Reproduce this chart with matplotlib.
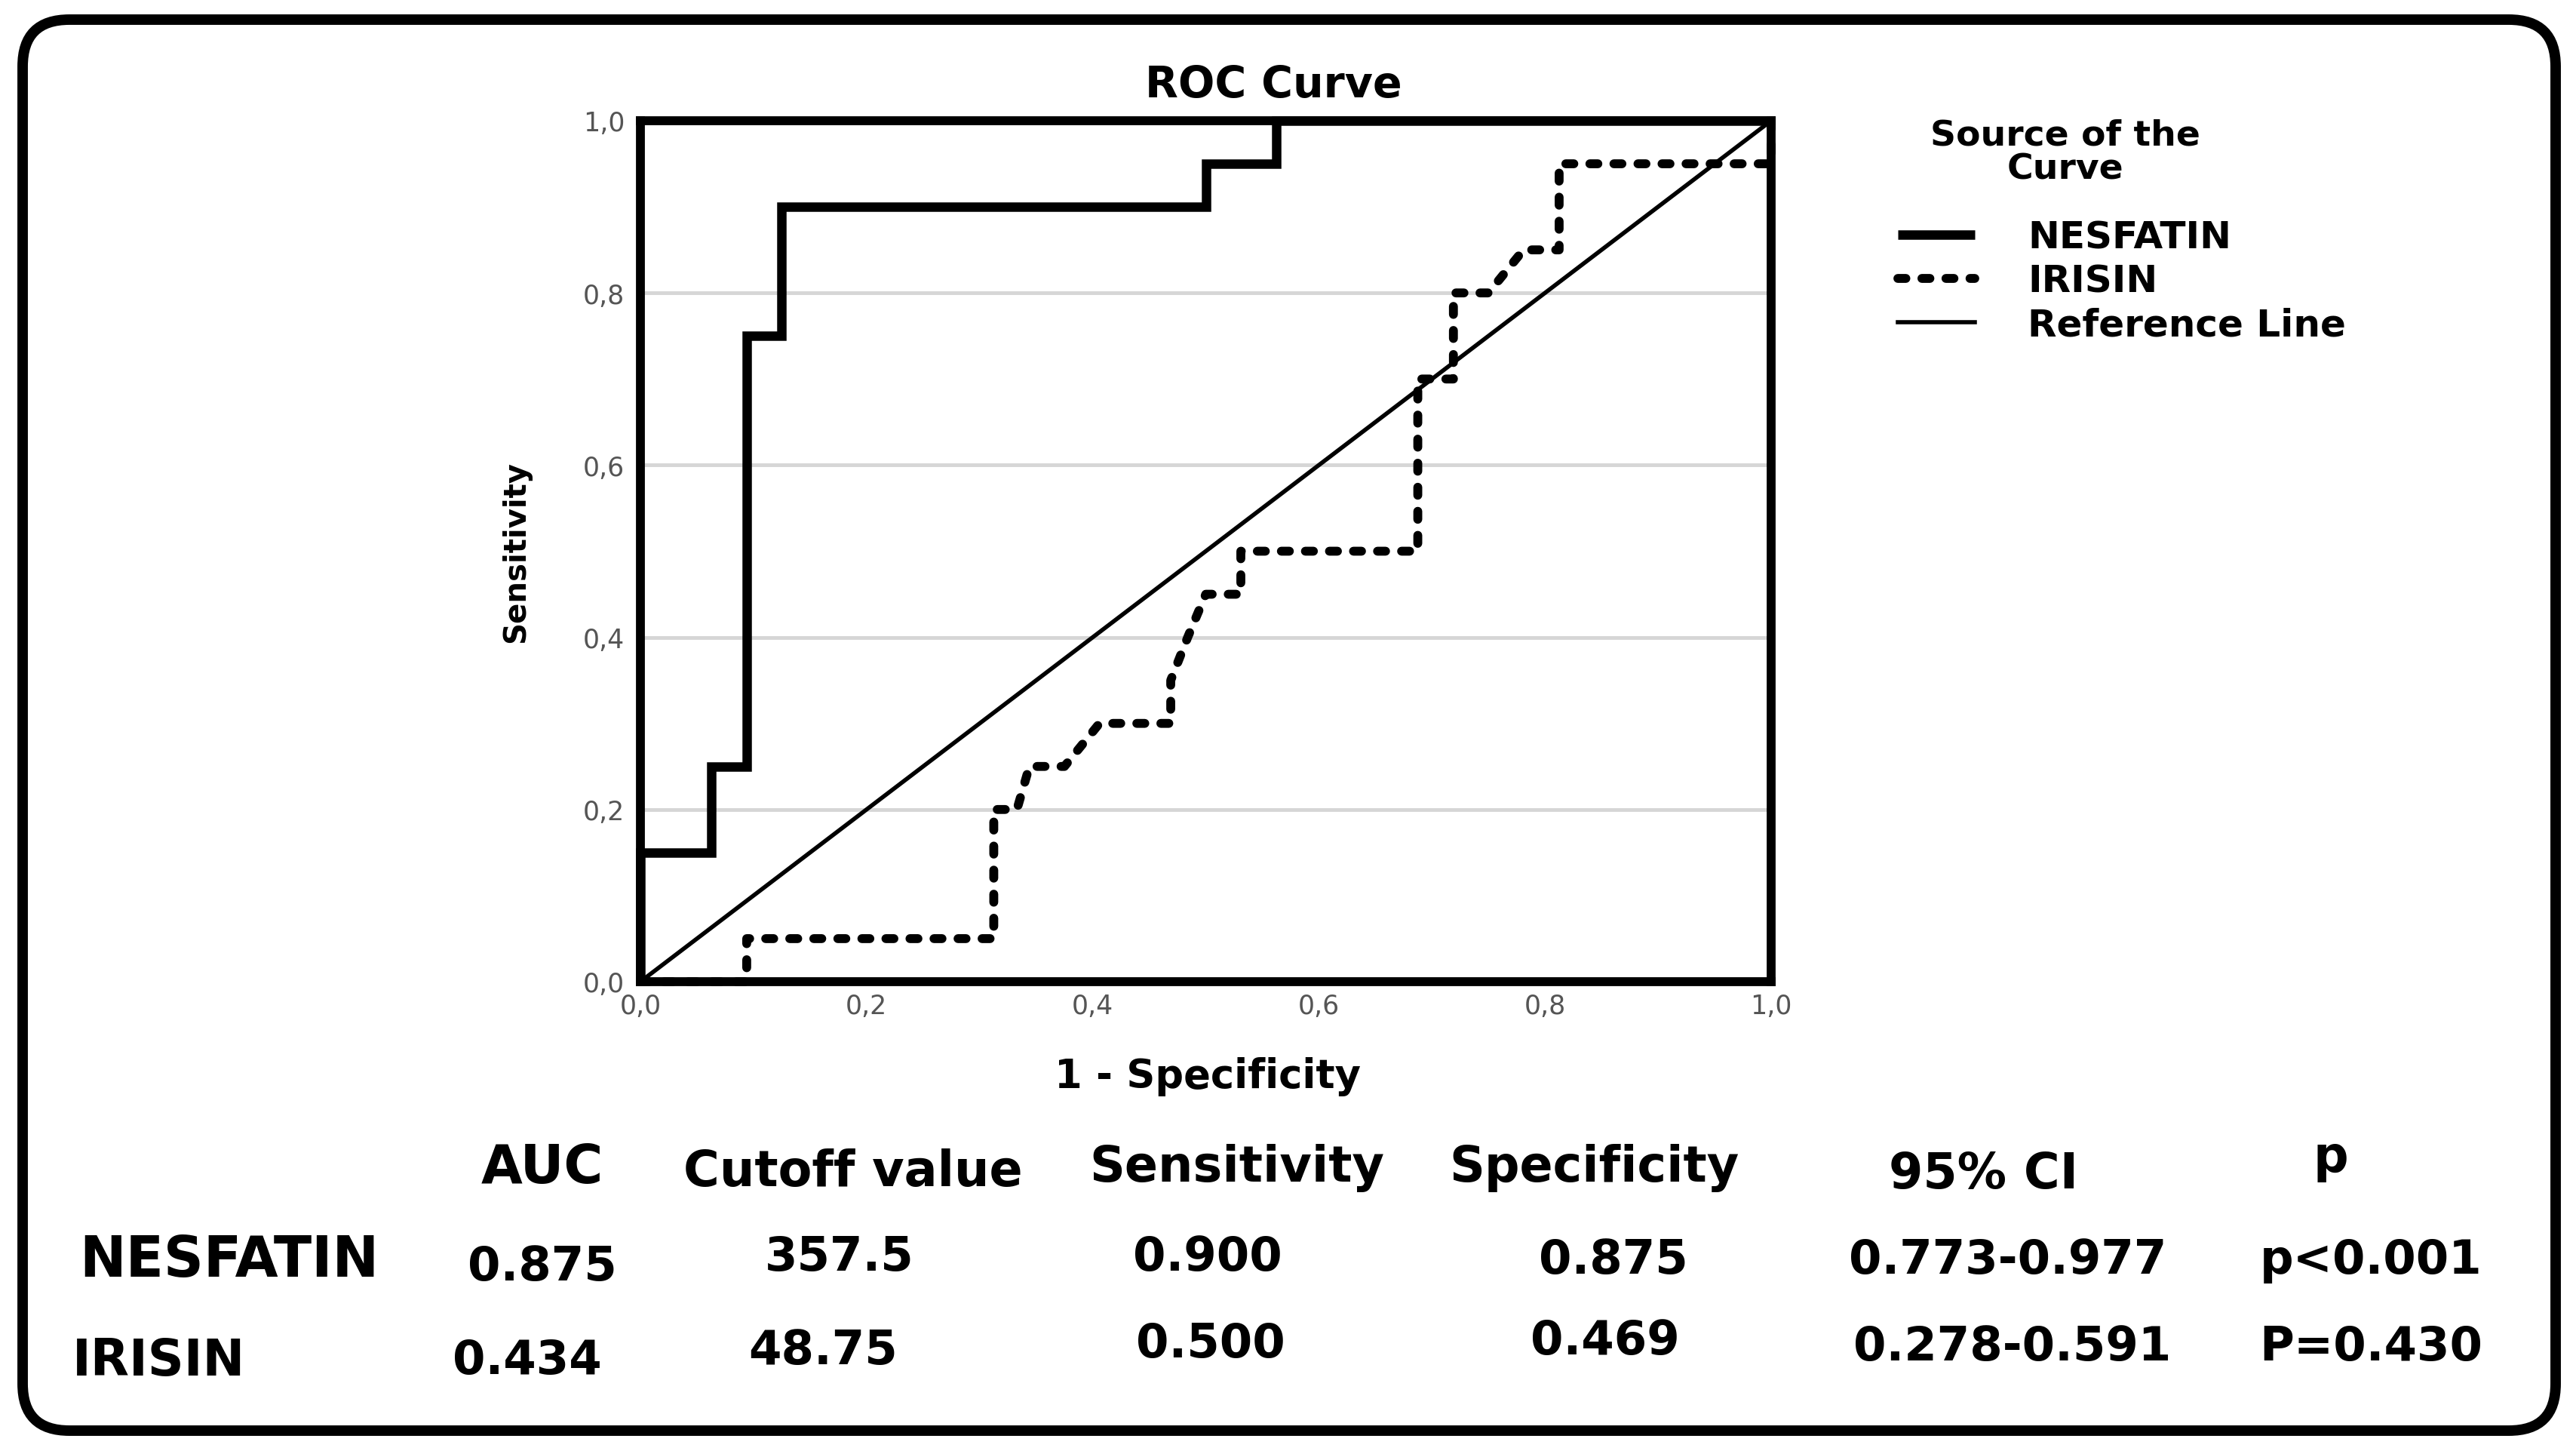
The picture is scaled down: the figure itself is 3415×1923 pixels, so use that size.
import numpy as np
import matplotlib
matplotlib.use('Agg')
import matplotlib.pyplot as plt
from matplotlib.patches import FancyBboxPatch

# ---------------- data ----------------
nesfatin_fpr = [0.0, 0.0, 0.0625, 0.0625, 0.09375, 0.09375, 0.125, 0.125, 0.5, 0.5, 0.5625, 0.5625, 1.0]
nesfatin_tpr = [0.0, 0.15, 0.15, 0.25, 0.25, 0.75, 0.75, 0.90, 0.90, 0.95, 0.95, 1.0, 1.0]

irisin_fpr = [0.0, 0.094, 0.094, 0.3125, 0.3125, 0.333, 0.344, 0.375, 0.406, 0.469, 0.469, 0.484,
              0.5, 0.531, 0.531, 0.6875, 0.6875, 0.719, 0.719, 0.75, 0.781, 0.8125, 0.8125, 1.0, 1.0]
irisin_tpr = [0.0, 0.0, 0.05, 0.05, 0.20, 0.20, 0.25, 0.25, 0.30, 0.30, 0.35, 0.40,
              0.45, 0.45, 0.50, 0.50, 0.70, 0.70, 0.80, 0.80, 0.85, 0.85, 0.95, 0.95, 1.0]

ref_x = [0.0, 1.0]
ref_y = [0.0, 1.0]

tick_values = [0.0, 0.2, 0.4, 0.6, 0.8, 1.0]
tick_labels = ['0,0', '0,2', '0,4', '0,6', '0,8', '1,0']
grid_values = [0.2, 0.4, 0.6, 0.8]

series_names = ['NESFATIN', 'IRISIN', 'Reference Line']
legend_title = 'Source of the\nCurve'

table_headers = ['AUC', 'Cutoff value', 'Sensitivity', 'Specificity', '95% CI', 'p']
table_rows = ['NESFATIN', 'IRISIN']
auc_values = ['0.875', '0.434']
cutoff_values = ['357.5', '48.75']
sensitivity_values = ['0.900', '0.500']
specificity_values = ['0.875', '0.469']
ci_values = ['0.773-0.977', '0.278-0.591']
p_values = ['p<0.001', 'P=0.430']

# ---------------- layout (pixels) ----------------
W, H = 3415, 1924
header_x = [719, 1131, 1640, 2113, 2629, 3090]
header_y = [1568, 1572, 1566, 1566, 1575, 1553]
header_size = [51, 47, 47, 47, 47, 47]
row_label_x = [105, 96]
row_label_y = [1692, 1823]
row_label_size = [53, 48]
cell_x = [[719, 1113, 1601, 2139, 2662, 3143],
          [699, 1091, 1605, 2128, 2668, 3143]]
cell_y = [[1697, 1684, 1684, 1688, 1688, 1688],
          [1821, 1808, 1799, 1795, 1803, 1803]]

fig = plt.figure(figsize=(W / 100, H / 100), dpi=100, facecolor='white')

# background axes in pixel coordinates (y downward)
bg = fig.add_axes([0, 0, 1, 1], zorder=0)
bg.set_xlim(0, W)
bg.set_ylim(H, 0)
bg.axis('off')
frame = FancyBboxPatch((30, 27), 3358, 1870, boxstyle='round,pad=0,rounding_size=62',
                       fc='white', ec='black', lw=10)
bg.add_patch(frame)

# main ROC axes
ax_left, ax_right, ax_top, ax_bottom = 849, 2348, 161, 1302
ax = fig.add_axes([ax_left / W, 1 - ax_bottom / H, (ax_right - ax_left) / W, (ax_bottom - ax_top) / H], zorder=2)
ax.set_xlim(0, 1)
ax.set_ylim(0, 1)
for s in ax.spines.values():
    s.set_linewidth(8.5)
    s.set_color('black')
    s.set_zorder(5)

ax.set_xticks(tick_values)
ax.set_xticklabels(tick_labels)
ax.set_yticks(tick_values)
ax.set_yticklabels(tick_labels)
ax.tick_params(length=0, labelsize=25, labelcolor='#555555')
ax.tick_params(axis='x', pad=11)
ax.tick_params(axis='y', pad=15)

for g in grid_values:
    ax.axhline(g, color='#d6d6d6', lw=3.5, zorder=1)

l_nes, = ax.plot(nesfatin_fpr, nesfatin_tpr, color='black', lw=9,
                 solid_joinstyle='miter', solid_capstyle='butt', clip_on=False, zorder=4)
l_iri, = ax.plot(irisin_fpr, irisin_tpr, color='black', lw=8.5, dashes=(0.9, 1.8),
                 dash_capstyle='round', dash_joinstyle='round', clip_on=False, zorder=4)
l_ref, = ax.plot(ref_x, ref_y, color='black', lw=4, clip_on=False, zorder=3)

ax.set_title('ROC Curve', fontsize=41, fontweight='bold',
             x=(1688 - ax_left) / (ax_right - ax_left),
             y=(ax_bottom - 137) / (ax_bottom - ax_top), va='baseline')

ax.set_xlabel('1 - Specificity', fontsize=38, fontweight='bold')
ax.xaxis.label.set_verticalalignment('center')
ax.xaxis.set_label_coords((1601 - ax_left) / (ax_right - ax_left), (ax_bottom - 1427) / (ax_bottom - ax_top))
ax.set_ylabel('Sensitivity', fontsize=29, fontweight='bold')
ax.yaxis.label.set_verticalalignment('center')
ax.yaxis.set_label_coords((684 - ax_left) / (ax_right - ax_left), 0.5)

# legend
bg.text(2738, 202.5, legend_title, ha='center', va='center', multialignment='center',
        fontsize=34, fontweight='bold', linespacing=0.98, zorder=3)
leg = ax.legend([l_nes, l_iri, l_ref], series_names, loc='upper left',
                bbox_to_anchor=(2516, 291), bbox_transform=bg.transData,
                frameon=False, borderpad=0, borderaxespad=0, handlelength=2.04,
                handletextpad=1.4, labelspacing=0.2, prop={'weight': 'bold', 'size': 36})

# table
for i, h in enumerate(table_headers):
    bg.text(header_x[i], header_y[i], h, ha='center', va='baseline', fontsize=header_size[i],
            fontweight='bold', zorder=3)
columns = [auc_values, cutoff_values, sensitivity_values, specificity_values, ci_values, p_values]
for r, name in enumerate(table_rows):
    bg.text(row_label_x[r], row_label_y[r], name, ha='left', va='baseline', fontsize=row_label_size[r],
            fontweight='bold', zorder=3)
    for c, col in enumerate(columns):
        bg.text(cell_x[r][c], cell_y[r][c], col[r], ha='center', va='baseline', fontsize=45,
                fontweight='bold', zorder=3)

fig.savefig('out.png', dpi=100, facecolor='white')
